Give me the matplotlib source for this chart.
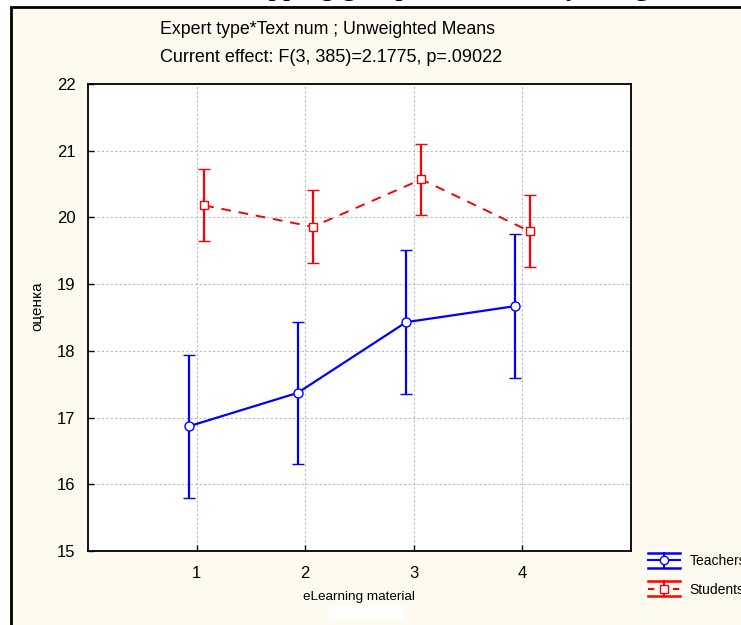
import matplotlib.pyplot as plt
import matplotlib.patches as mpatches
from matplotlib.lines import Line2D
from matplotlib.legend_handler import HandlerBase
import numpy as np

# means and confidence half-widths
materials = [1, 2, 3, 4]
teachers_mean = [16.87, 17.37, 18.43, 18.67]
teachers_ci = [1.07, 1.07, 1.08, 1.08]
students_mean = [20.18, 19.86, 20.57, 19.79]
students_ci = [0.54, 0.55, 0.53, 0.54]
series_names = ['Teachers', 'Students']
y_ticks = [15, 16, 17, 18, 19, 20, 21, 22]

plt.rcParams['font.family'] = ['Liberation Sans', 'DejaVu Sans']


class ErrKey:
    def __init__(self, color, ls, marker):
        self.color = color
        self.ls = ls
        self.marker = marker


class ErrKeyHandler(HandlerBase):
    # legend key like the original: wide caps, line and open marker
    def create_artists(self, legend, h, xd, yd, width, height, fontsize, trans):
        x0, x1 = -xd, -xd + width
        xm = (x0 + x1) / 2
        ym = height / 2 - yd
        top, bot = ym + 5.4, ym - 5.4
        arts = [
            Line2D([x0, x1], [top, top], color=h.color, lw=1.8),
            Line2D([x0, x1], [bot, bot], color=h.color, lw=1.8),
            Line2D([xm, xm], [bot, top], color=h.color, lw=1.5),
            Line2D([x0, x1], [ym, ym], color=h.color, lw=1.5, ls=h.ls),
            Line2D([xm], [ym], color=h.color, marker=h.marker, ms=6,
                   mfc='white', mec=h.color, mew=1),
        ]
        for a in arts:
            a.set_transform(trans)
        return arts


fig = plt.figure(figsize=(7.41, 6.25), dpi=100)
fig.patch.set_facecolor('white')

# cream frame of the original screenshot
frame = mpatches.Rectangle((11 / 741, -0.1), 1.2, 1 - 7 / 625 + 0.1,
                           transform=fig.transFigure, facecolor='#fffaf0',
                           edgecolor='black', linewidth=2, zorder=-2)
fig.patches.append(frame)

# clipped document text above the frame
fig.text(0.315, 1.008, 'mapping groups of the survey design', family='Liberation Serif',
         fontsize=21, va='baseline', ha='left', color='black')

ax = fig.add_axes([88 / 741, 1 - 551 / 625, 543 / 741, 467 / 625])
ax.set_zorder(2)
ax.set_facecolor('white')

x = np.array(materials, dtype=float)
off = 0.07

ax.errorbar(x - off, teachers_mean, yerr=teachers_ci, color='#0000ff', lw=1.6,
            elinewidth=1.6, capsize=4, capthick=1.6, marker='o', ms=6.5,
            mfc='white', mec='#0000ff', mew=1, zorder=3)
ax.errorbar(x + off, students_mean, yerr=students_ci, color='#ff0000', lw=1.4,
            ls=(0, (5, 4)), elinewidth=1.6, capsize=4, capthick=1.6, marker='s',
            ms=6, mfc='white', mec='#ff0000', mew=1, zorder=3)

ax.set_xlim(0, 5)
ax.set_ylim(15, 22)
ax.set_xticks(materials)
ax.set_yticks(y_ticks)
ax.tick_params(direction='in', length=4, width=1, labelsize=12, colors='black')
ax.tick_params(axis='y', pad=9)
ax.tick_params(axis='x', pad=11)
ax.grid(True, color='#bbbbbb', linestyle=(0, (2, 2)), linewidth=0.8)
ax.set_axisbelow(True)
for s in ax.spines.values():
    s.set_linewidth(1.3)

fig.text(37 / 741, 1 - 306 / 625, 'оценка', rotation=90, fontsize=11,
         ha='center', va='center')
fig.text(359 / 741, 1 - 597 / 625, 'eLearning material', fontsize=9.7,
         ha='center', va='center')

fig.text(328 / 741, 1 - 30 / 625, 'Expert type*Text num ; Unweighted Means',
         fontsize=12.8, ha='center', va='center')
fig.text(331 / 741, 1 - 57 / 625, 'Current effect: F(3, 385)=2.1775, p=.09022',
         fontsize=13, ha='center', va='center')

# small white box below the axis label
fig.patches.append(mpatches.Rectangle((328 / 741, 1 - 621 / 625), 77 / 741, 15 / 625,
                                      transform=fig.transFigure, facecolor='white',
                                      edgecolor='none', zorder=1))

keys = [ErrKey('#0000ff', '-', 'o'), ErrKey('#ff0000', (0, (3, 3)), 's')]
leg = fig.legend(keys, series_names, loc='upper left',
                 bbox_to_anchor=(648 / 741, 1 - 553 / 625),
                 handler_map={ErrKey: ErrKeyHandler()},
                 frameon=False, fontsize=10, handlelength=2.3, handleheight=1.2,
                 handletextpad=0.7, labelspacing=1.0, borderpad=0, borderaxespad=0)

fig.savefig('out.png', dpi=100)
